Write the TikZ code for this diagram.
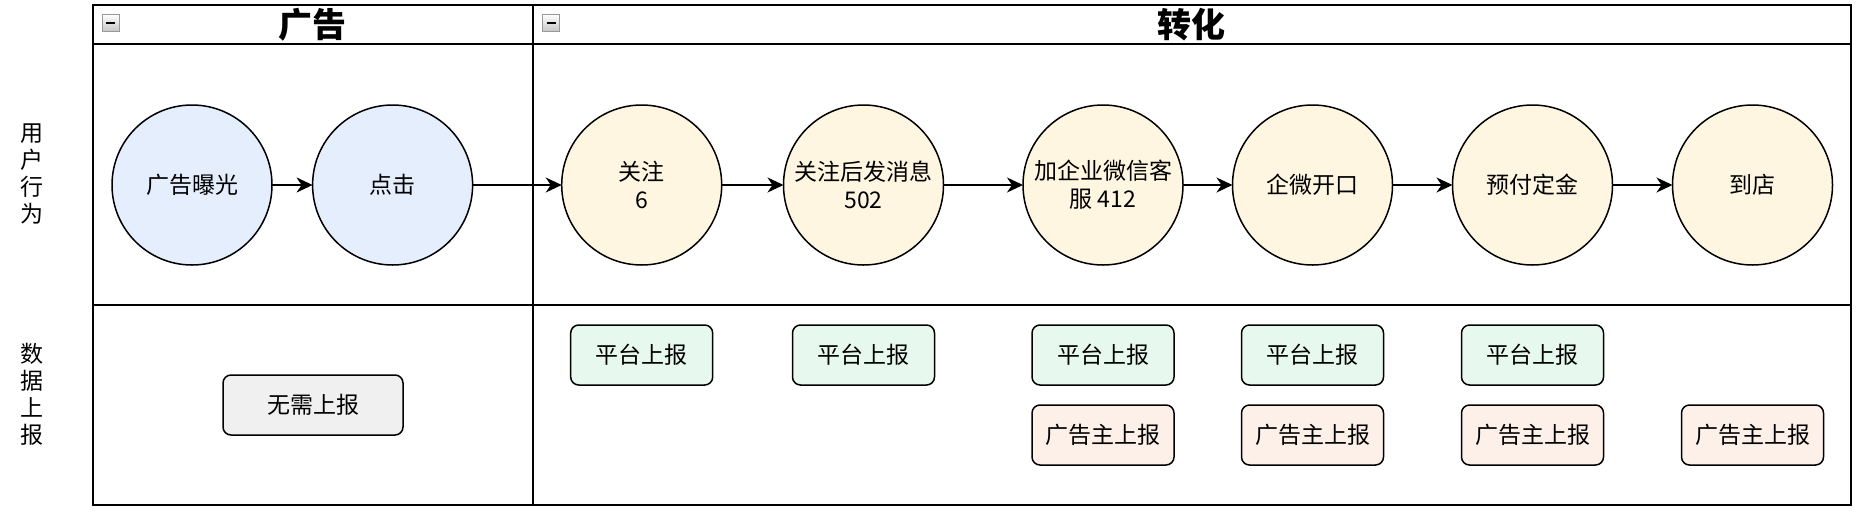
\documentclass[tikz,border=0pt]{standalone}
\usepackage{fontspec}
\setmainfont{Noto Sans CJK SC}
\usetikzlibrary{arrows.meta, positioning}

\definecolor{adblue}{HTML}{E4EEFC}
\definecolor{convyellow}{HTML}{FEF6E1}
\definecolor{platgreen}{HTML}{E7F8EE}
\definecolor{ownerpink}{HTML}{FDF0E9}
\definecolor{nonegray}{HTML}{F0F0F0}

\tikzset{
  stage/.style={circle, draw, line width=1.5pt, minimum size=160pt, inner sep=0pt,
    outer sep=0pt, align=center, font=\fontsize{23}{28}\selectfont},
  report/.style={draw, rounded corners=8pt, line width=1.5pt, minimum width=142pt,
    minimum height=60pt, font=\fontsize{23}{28}\selectfont},
  flow/.style={-{Stealth[length=16pt, width=15pt, inset=5pt]}, line width=1.5pt},
  lane/.style={line width=2pt},
  foldbox/.style={draw=gray!80, line width=1pt, minimum size=17pt, inner sep=0pt,
    top color=white, bottom color=gray!45},
}

\begin{document}
\begin{tikzpicture}[x=1pt, y=-1pt]
    \useasboundingbox (0,0) rectangle (1860,512);
    % frame of the swimlanes
    \draw[lane] (92.5,5) rectangle (1851,505);
    \draw[lane] (92.5,44) -- (1851,44);
    \draw[lane] (92.5,305) -- (1851,305);
    \draw[lane] (532.5,5) -- (532.5,505);

    % headers
    \node[font=\fontsize{34}{34}\selectfont\bfseries] (adhead) at (312.5,24.5) {广告};
    \node[font=\fontsize{34}{34}\selectfont\bfseries] (convhead) at (1191.5,24.5) {转化};
    \node[foldbox] (adfold) at (110.7,22.8) {};
    \node[foldbox] (convfold) at (551,22.8) {};
    \draw[line width=2pt] ([xshift=-4.5pt]adfold.center) -- ([xshift=4.5pt]adfold.center);
    \draw[line width=2pt] ([xshift=-4.5pt]convfold.center) -- ([xshift=4.5pt]convfold.center);

    % row labels
    \node[align=center, font=\fontsize{23}{27}\selectfont] (userrow) at (32,174) {用\\户\\行\\为};
    \node[align=center, font=\fontsize{23}{27}\selectfont] (datarow) at (32,394) {数\\据\\上\\报};

    % user behaviour
    \node[stage, fill=adblue] (expose) at (192,185) {广告曝光};
    \node[stage, fill=adblue, right=40.6pt of expose] (click) {点击};
    \node[stage, fill=convyellow, right=89.1pt of click] (follow) {关注\\6};
    \node[stage, fill=convyellow, right=61.8pt of follow] (message) {关注后发消息\\502};
    \node[stage, fill=convyellow, right=79.5pt of message] (wecom) {加企业微信客\\服 412};
    \node[stage, fill=convyellow, right=49.5pt of wecom] (talk) {企微开口};
    \node[stage, fill=convyellow, right=60pt of talk] (deposit) {预付定金};
    \node[stage, fill=convyellow, right=60pt of deposit] (visit) {到店};

    \draw[flow] (expose) -- (click);
    \draw[flow] (click) -- (follow);
    \draw[flow] (follow) -- (message);
    \draw[flow] (message) -- (wecom);
    \draw[flow] (wecom) -- (talk);
    \draw[flow] (talk) -- (deposit);
    \draw[flow] (deposit) -- (visit);

    % data reporting
    \node[report, fill=nonegray, minimum width=180pt] (noreport) at (313,405) {无需上报};
    \node[report, fill=platgreen] (plat1) at (follow |- 0,355) {平台上报};
    \node[report, fill=platgreen] (plat2) at (message |- 0,355) {平台上报};
    \node[report, fill=platgreen] (plat3) at (wecom |- 0,355) {平台上报};
    \node[report, fill=platgreen] (plat4) at (talk |- 0,355) {平台上报};
    \node[report, fill=platgreen] (plat5) at (deposit |- 0,355) {平台上报};
    \node[report, fill=ownerpink] (owner1) at (wecom |- 0,435) {广告主上报};
    \node[report, fill=ownerpink] (owner2) at (talk |- 0,435) {广告主上报};
    \node[report, fill=ownerpink] (owner3) at (deposit |- 0,435) {广告主上报};
    \node[report, fill=ownerpink] (owner4) at (visit |- 0,435) {广告主上报};
\end{tikzpicture}
\end{document}
